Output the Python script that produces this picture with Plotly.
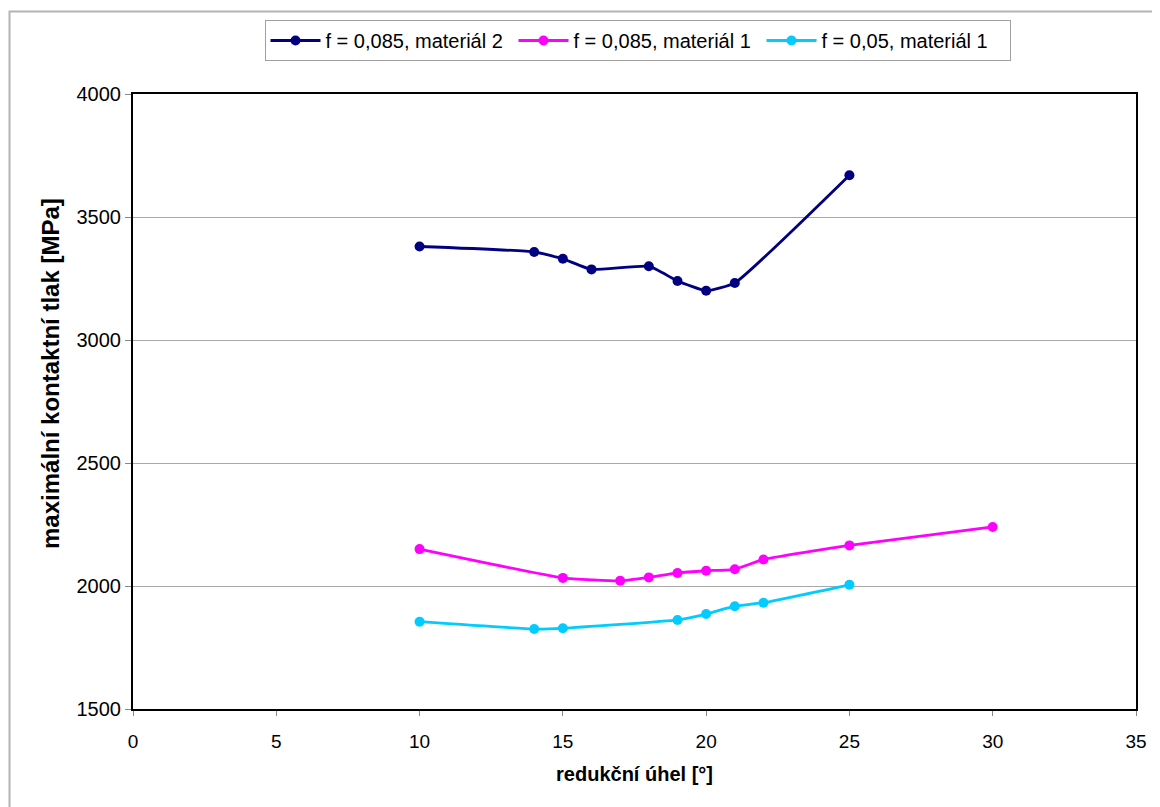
import plotly.graph_objects as go

# Data
x_m2_085 = [10, 14, 15, 16, 18, 19, 20, 21, 25]
y_m2_085 = [3380, 3358, 3330, 3287, 3300, 3240, 3200, 3232, 3670]

x_m1_085 = [10, 15, 17, 18, 19, 20, 21, 22, 25, 30]
y_m1_085 = [2150, 2033, 2021, 2035, 2053, 2062, 2068, 2108, 2165, 2240]

x_m1_05 = [10, 14, 15, 19, 20, 21, 22, 25]
y_m1_05 = [1855, 1825, 1828, 1862, 1886, 1918, 1932, 2005]

names = ["f = 0,085, materiál 2", "f = 0,085, materiál 1", "f = 0,05, materiál 1"]
colors = ["#000080", "#FF00FF", "#00CCFF"]

x_ticks = [0, 5, 10, 15, 20, 25, 30, 35]
y_ticks = [1500, 2000, 2500, 3000, 3500, 4000]

FONT = "Liberation Sans, Arial, sans-serif"

fig = go.Figure()
for xs, ys, nm, c in zip([x_m2_085, x_m1_085, x_m1_05],
                         [y_m2_085, y_m1_085, y_m1_05], names, colors):
    fig.add_trace(go.Scatter(
        x=xs, y=ys, name=nm, mode="lines+markers",
        line=dict(color=c, width=2.8, shape="spline", smoothing=0.4),
        marker=dict(color=c, size=10),
    ))

# page body has an 8px margin; figure sized to fit the 1160x807 window
W, H = 1152, 799
L, T = 125, 86
R, B = 24, 98
pw, ph = W - L - R, H - T - B

fig.update_layout(
    width=W, height=H,
    margin=dict(l=L, r=R, t=T, b=B),
    paper_bgcolor="white", plot_bgcolor="white",
    font=dict(family=FONT, size=18, color="black"),
    showlegend=True,
    legend=dict(
        orientation="h", x=0.503, xanchor="center", y=1 + (T - 12) / ph, yanchor="top",
        bordercolor="#a0a0a0", borderwidth=1, bgcolor="white",
        font=dict(family=FONT, size=20, color="black"),
        itemwidth=50, tracegroupgap=0,
        entrywidth=183, entrywidthmode="pixels",
    ),
    xaxis=dict(
        range=[0, 35], tickvals=x_ticks, ticktext=[str(v) for v in x_ticks],
        showgrid=False, zeroline=False,
        showline=True, linecolor="black", linewidth=2, mirror=True,
        ticks="outside", ticklen=5, tickcolor="#888888",
        tickfont=dict(family=FONT, size=19), ticklabelstandoff=9,
        title=dict(text="<b>redukční úhel [°]</b>", font=dict(family=FONT, size=20), standoff=16),
    ),
    yaxis=dict(
        range=[1500, 4000], tickvals=y_ticks, ticktext=[str(v) for v in y_ticks],
        showgrid=True, gridcolor="#a8a8a8", gridwidth=1, zeroline=False,
        showline=True, linecolor="black", linewidth=2, mirror=True,
        ticks="outside", ticklen=6, tickcolor="#888888",
        tickfont=dict(family=FONT, size=20),
    ),
)

# y-axis title (placed like the original, slightly above the plot centre)
fig.add_annotation(
    text="<b>maximální kontaktní tlak [MPa]</b>", textangle=-90,
    xref="paper", yref="paper", x=(42 - L) / pw, y=1 - (366 - T) / ph,
    xanchor="center", yanchor="middle", showarrow=False,
    font=dict(family=FONT, size=24, color="black"),
)

# outer chart-area border (gray), left and top edges visible
fig.add_shape(type="rect", xref="paper", yref="paper",
              x0=(1.5 - L) / pw, x1=(W + 10 - L) / pw,
              y0=-(B + 10) / ph, y1=1 + (T - 3.5) / ph,
              line=dict(color="#b4b4b4", width=2), layer="below")

fig.write_html("out.html")
